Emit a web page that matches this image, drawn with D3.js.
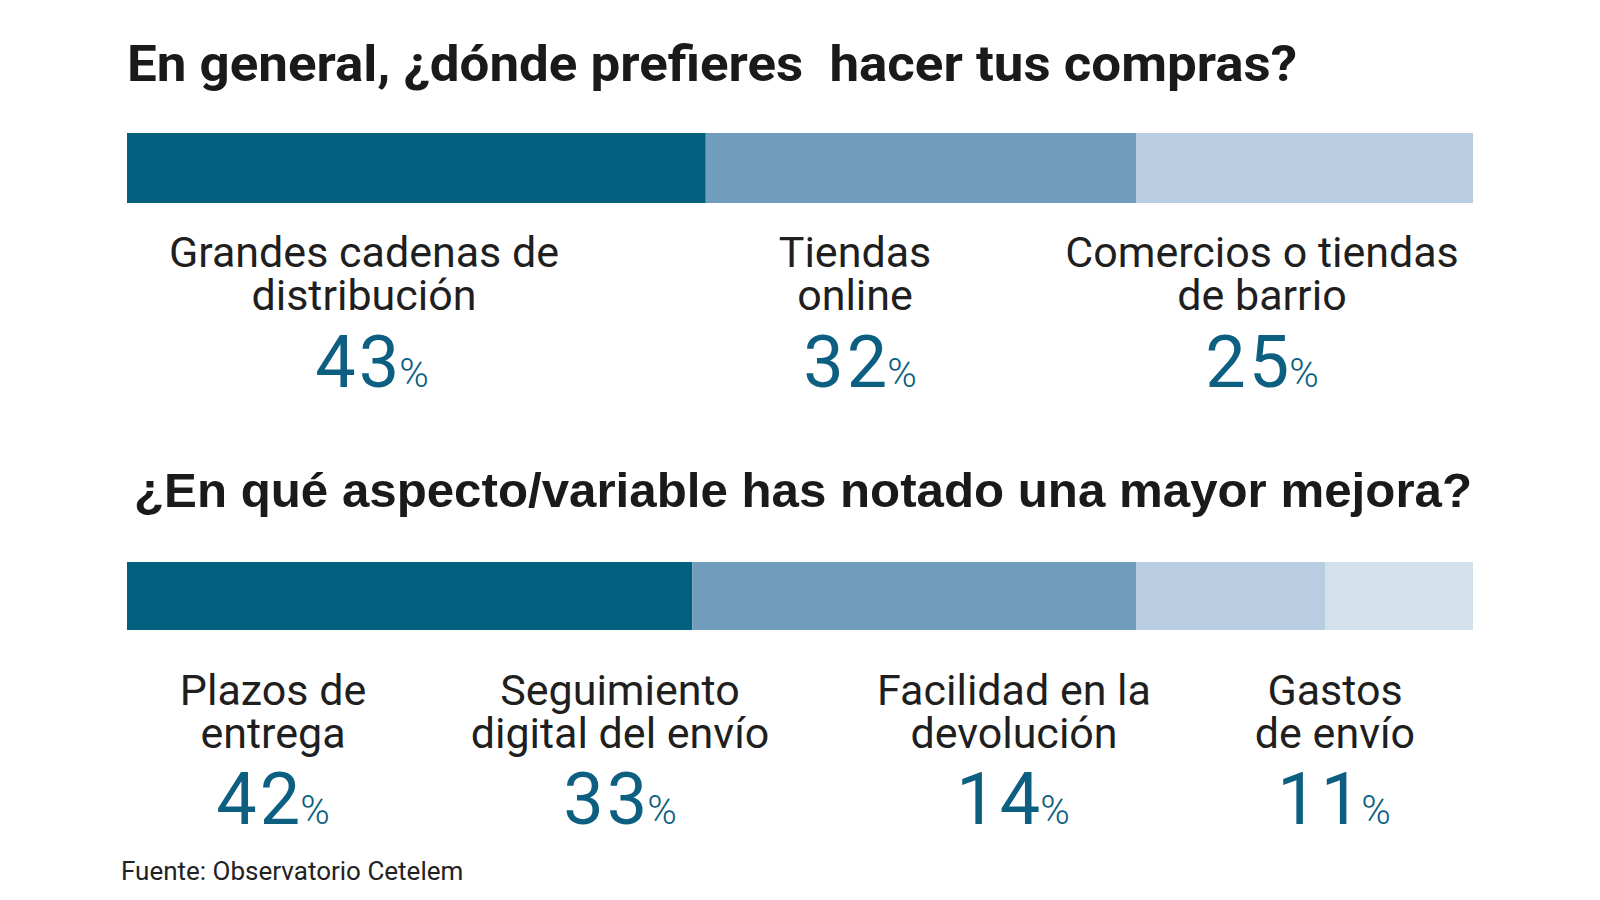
<!DOCTYPE html>
<html lang="es">
<head>
<meta charset="utf-8">
<script src="https://cdn.jsdelivr.net/npm/d3@7"></script>
<style>
  html, body { margin: 0; padding: 0; background: #ffffff; }
  svg { display: block; }
  text { white-space: pre; }
</style>
</head>
<body>
<svg id="chart" width="1600" height="900"></svg>
<script>
// ---- Data ----
const title1 = "En general, ¿dónde prefieres  hacer tus compras?";
const categories1 = [
  ["Grandes cadenas de", "distribución"],
  ["Tiendas", "online"],
  ["Comercios o tiendas", "de barrio"]
];
const values1 = [43, 32, 25];

const title2 = "¿En qué aspecto/variable has notado una mayor mejora?";
const categories2 = [
  ["Plazos de", "entrega"],
  ["Seguimiento", "digital del envío"],
  ["Facilidad en la", "devolución"],
  ["Gastos", "de envío"]
];
const values2 = [42, 33, 14, 11];

const sourceText = "Fuente: Observatorio Cetelem";
const palette = ["#03617f", "#6f9dbb", "#b8cde1", "#d3e2ea"];

// ---- Layout (not data) ----
const barX0 = 127, barX1 = 1473;
const sections = [
  { title: title1, titleX: 127, titleY: 81, titleLen: 1170, titleSize: 50,
    titleFont: "'Liberation Sans Narrow', 'Roboto', sans-serif",
    cats: categories1, vals: values1, barY: 133, barH: 70,
    labelCenters: [364, 855, 1262], numCenters: [372, 860, 1262],
    line1Y: 267, lineGap: 43, numY: 387 },
  { title: title2, titleX: 134, titleY: 507, titleLen: 1338, titleSize: 48,
    titleFont: "'Liberation Sans', Arial, sans-serif",
    cats: categories2, vals: values2, barY: 562, barH: 68,
    labelCenters: [273, 620, 1014, 1335], numCenters: [273, 620, 1013, 1334],
    line1Y: 705, lineGap: 43, numY: 824 }
];

const svg = d3.select("#chart");
const x = d3.scaleLinear().domain([0, 100]).range([barX0, barX1]);
const color = d3.scaleOrdinal().range(palette);

sections.forEach((s, si) => {
  const g = svg.append("g").attr("class", "section-" + si);

  g.append("text")
    .attr("x", s.titleX).attr("y", s.titleY)
    .attr("font-family", s.titleFont)
    .attr("font-weight", 700)
    .attr("font-size", s.titleSize)
    .attr("fill", "#1a1a1a")
    .attr("textLength", s.titleLen)
    .attr("lengthAdjust", "spacingAndGlyphs")
    .text(s.title);

  const ends = d3.cumsum(s.vals);
  const segs = s.vals.map((v, i) => ({ v, i, start: ends[i] - v, end: ends[i] }));
  color.domain(d3.range(s.vals.length));

  g.selectAll("rect.seg").data(segs).join("rect")
    .attr("class", "seg")
    .attr("x", d => x(d.start))
    .attr("y", s.barY)
    .attr("width", d => x(d.end) - x(d.start))
    .attr("height", s.barH)
    .attr("fill", d => color(d.i));

  // category labels: one text element per category, lines as tspans
  g.selectAll("text.cat").data(segs).join("text")
    .attr("class", "cat")
    .attr("text-anchor", "middle")
    .attr("font-family", "Roboto, 'Noto Sans', sans-serif")
    .attr("font-weight", 400)
    .attr("font-size", 43)
    .attr("fill", "#1f1f1f")
    .each(function(d) {
      const t = d3.select(this);
      s.cats[d.i].forEach((line, li) => {
        t.append("tspan")
          .attr("x", s.labelCenters[d.i])
          .attr("y", s.line1Y + li * s.lineGap)
          .text(line);
      });
    });

  // percentages
  const num = g.selectAll("text.num").data(segs).join("text")
    .attr("class", "num")
    .attr("x", d => s.numCenters[d.i]).attr("y", s.numY)
    .attr("text-anchor", "middle")
    .attr("font-family", "Roboto, 'Noto Sans', sans-serif")
    .attr("fill", "#0c5f80");
  num.append("tspan").attr("font-size", 72).attr("font-weight", 400)
    .attr("letter-spacing", 3).text(d => d.v);
  num.append("tspan").attr("font-size", 40).attr("font-weight", 300)
    .attr("dx", -3).text("%");
});

svg.append("text")
  .attr("x", 121).attr("y", 880)
  .attr("font-family", "Roboto, 'Noto Sans', sans-serif")
  .attr("font-size", 26)
  .attr("fill", "#222222")
  .text(sourceText);
</script>
</body>
</html>
